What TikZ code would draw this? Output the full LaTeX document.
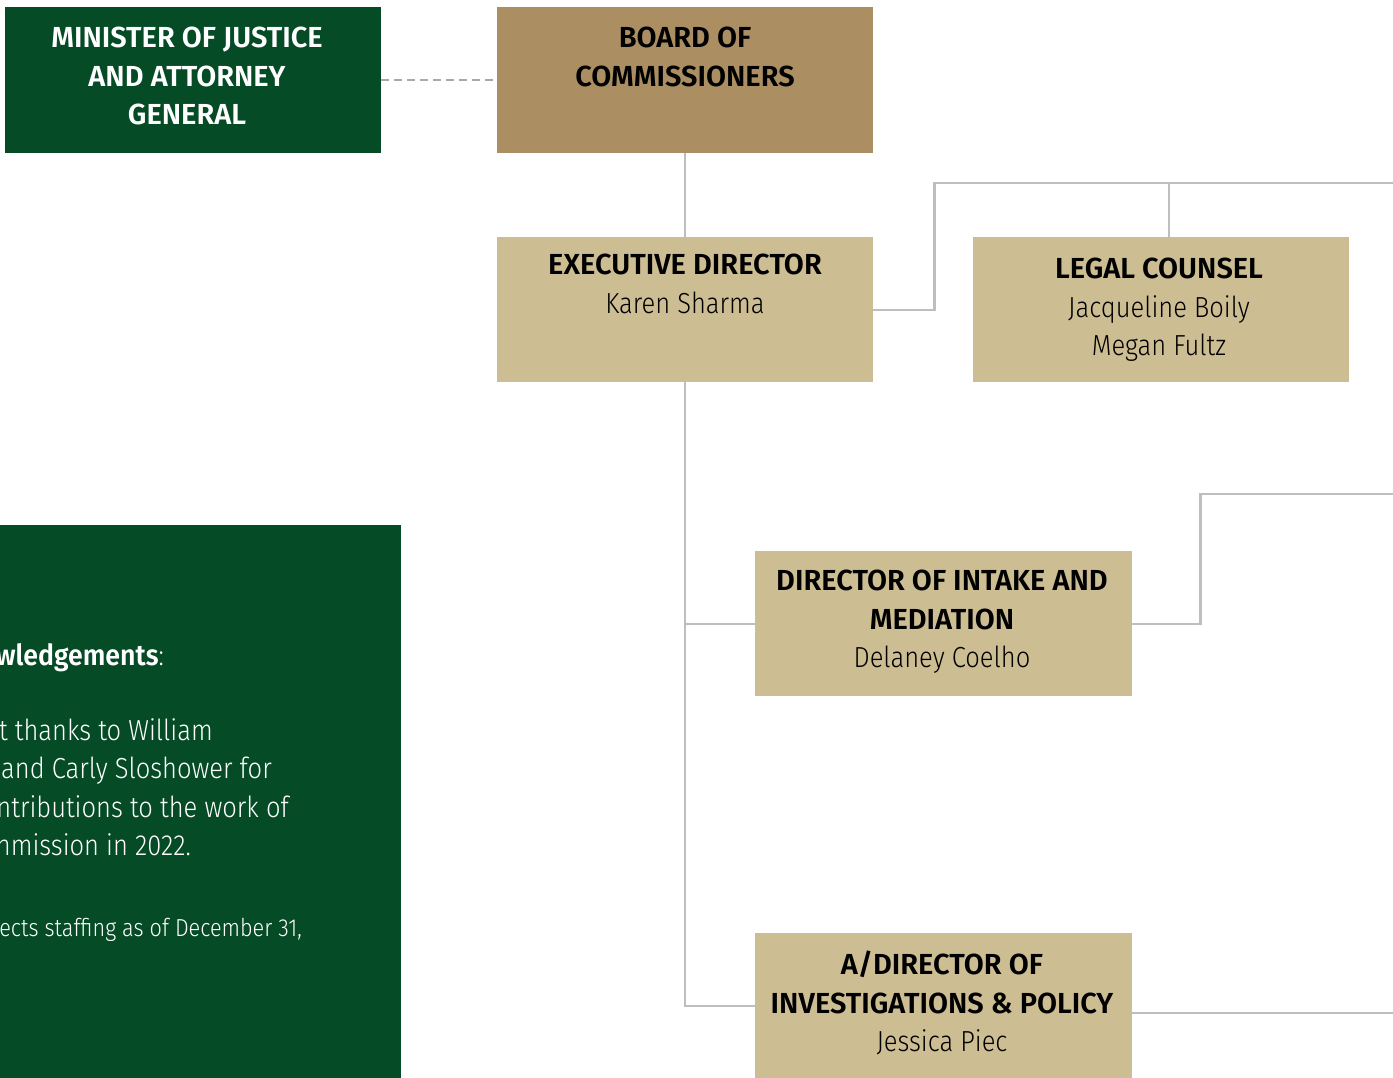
\documentclass[tikz,border=0pt]{standalone}
\usepackage{fontspec}
\setmainfont{Fira Sans}[FakeStretch=0.88]
\newfontfamily\lightf{Fira Sans Light}[FakeStretch=0.88]
\newfontfamily\boldf{Fira Sans SemiBold}[FakeStretch=1.0]
\newfontfamily\ackboldf{Fira Sans SemiBold}[FakeStretch=0.92]
\definecolor{dkgreen}{HTML}{044B26}
\definecolor{boardc}{HTML}{AB8E61}
\definecolor{tanc}{HTML}{CDBD93}
\definecolor{lineg}{HTML}{BCBEC0}
\definecolor{dashg}{HTML}{A7A9AC}
\begin{document}
\begin{tikzpicture}[x=1pt,y=-1pt,
  box/.style={rectangle, inner sep=0pt, anchor=north west, minimum width=376pt, minimum height=146pt},
  lbl/.style={anchor=north, inner sep=0pt, align=center, font=\boldf\fontsize{29}{38.5}\selectfont},
  conn/.style={draw=lineg, line width=2.4pt},
  dashline/.style={draw=dashg, line width=2pt, dash pattern=on 8pt off 5pt},
  ack/.style={anchor=base east, inner sep=0pt, text=white, font=\lightf\fontsize{29}{38}\selectfont}]
\useasboundingbox (0,0) rectangle (1393,1078);
% boxes
\node[box, fill=dkgreen] (min) at (5,7) {};
\node[box, fill=boardc] (board) at (497,7) {};
\node[box, fill=tanc, minimum height=145pt] (exec) at (497,237) {};
\node[box, fill=tanc, minimum height=145pt] (legal) at (973,237) {};
\node[box, fill=tanc, minimum width=377pt, minimum height=145pt] (intake) at (755,551) {};
\node[box, fill=tanc, minimum width=377pt, minimum height=145pt] (adir) at (755,933) {};
\node[box, fill=dkgreen, minimum width=401pt, minimum height=553pt] (ackbox) at (0,525) {};
% labels
\node[lbl, text=white] (mint) at (187,27) {MINISTER OF JUSTICE\\AND ATTORNEY\\GENERAL};
\node[lbl] (boardt) at (685,27) {BOARD OF\\COMMISSIONERS};
\node[lbl] (exect) at (685,254) {EXECUTIVE DIRECTOR\\{\lightf Karen Sharma}};
\node[lbl] (legalt) at (1159,258) {LEGAL COUNSEL\\{\lightf Jacqueline Boily}\\{\lightf Megan Fultz}};
\node[lbl] (intaket) at (942,570) {DIRECTOR OF INTAKE AND\\MEDIATION\\{\lightf Delaney Coelho}};
\node[lbl] (adirt) at (942,951) {A/DIRECTOR OF\\INVESTIGATIONS \& POLICY\\{\lightf Jessica Piec}};
% acknowledgement text
\begin{scope}
\clip (0,525) rectangle (401,1078);
\node[ack] (ack1) at (164,665) {{\ackboldf wledgements}:};
\node[ack] (ack2) at (213,740) {t thanks to William};
\node[ack] (ack3) at (272,778) {and Carly Sloshower for};
\node[ack] (ack4) at (289,817) {ntributions to the work of};
\node[ack] (ack5) at (191,855) {nmission in 2022.};
\node[ack, font=\lightf\fontsize{24.6}{30}\selectfont] (ack6) at (302,936) {ects staffing as of December 31,};
\end{scope}
% connectors
\coordinate (rt1) at (1393,183);
\coordinate (rt2) at (1393,494);
\coordinate (rt3) at (1393,1013);
\draw[dashline] (min.east) -- (board.west);
\draw[conn] (board.south) -- (exec.north);
\draw[conn] (exec.east) -- ++(61,0) |- (rt1);
\draw[conn] ([xshift=8pt]legal.north) -- ([xshift=8pt]legal.north |- rt1);
\draw[conn] (exec.south) |- (adir.west);
\draw[conn] (exec.south |- intake.west) -- (intake.west);
\draw[conn] (intake.east) -- ++(68,0) |- (rt2);
\draw[conn] (adir.east |- rt3) -- (rt3);
\end{tikzpicture}
\end{document}
